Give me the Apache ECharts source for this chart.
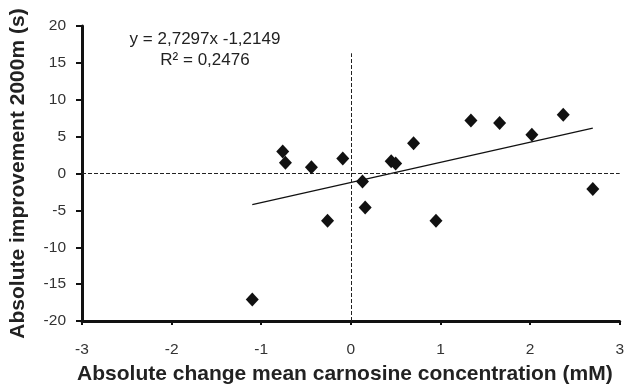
<!DOCTYPE html>
<html>
<head>
<meta charset="utf-8">
<script src="https://cdn.jsdelivr.net/npm/echarts@6/dist/echarts.min.js"></script>
<style>
  html, body { margin: 0; padding: 0; background: #fff; }
  #chart { width: 627px; height: 390px; }
</style>
</head>
<body>
<div id="chart"></div>
<script>
// carnosine change (mM) vs improvement 2000m (s)
const carnosineChange = [-1.10, -0.76, -0.73, -0.44, -0.26, -0.09, 0.13, 0.16, 0.45, 0.50, 0.70, 0.95, 1.34, 1.66, 2.02, 2.37, 2.70];
const improvement = [-17.1, 3.0, 1.45, 0.85, -6.4, 2.05, -1.1, -4.6, 1.65, 1.35, 4.1, -6.4, 7.2, 6.85, 5.25, 7.95, -2.1];
const trendLine = [[-1.10, -4.22], [2.70, 6.16]];
const xTicks = [-3, -2, -1, 0, 1, 2, 3];
const yTicks = [-20, -15, -10, -5, 0, 5, 10, 15, 20];
const equationLines = ['y = 2,7297x -1,2149', 'R² = 0,2476'];

const font = '"Liberation Sans", Arial, sans-serif';
const chart = echarts.init(document.getElementById('chart'));

const points = carnosineChange.map((x, i) => [x, improvement[i]]);

chart.setOption({
  animation: false,
  grid: { left: 79, right: 7, top: 26, bottom: 66 },
  xAxis: {
    type: 'value',
    min: xTicks[0],
    max: xTicks[xTicks.length - 1],
    interval: 1,
    name: 'Absolute change mean carnosine concentration (mM)',
    nameLocation: 'middle',
    nameGap: 43,
    nameTextStyle: { fontFamily: font, fontSize: 21, fontWeight: 'bold', color: '#222', padding: [0, 12, 0, 0] },
    axisLine: { onZero: false, lineStyle: { color: '#111', width: 3 } },
    axisTick: { length: 4, lineStyle: { color: '#111', width: 2 } },
    axisLabel: { margin: 21, fontFamily: font, fontSize: 15.5, color: '#333' },
    splitLine: { show: false }
  },
  yAxis: {
    type: 'value',
    min: yTicks[0],
    max: yTicks[yTicks.length - 1],
    interval: 5,
    name: 'Absolute improvement 2000m (s)',
    nameLocation: 'middle',
    nameGap: 53,
    nameTextStyle: { fontFamily: font, fontSize: 21, fontWeight: 'bold', color: '#222' },
    axisLine: { show: true, onZero: false, lineStyle: { color: '#111', width: 3 } },
    axisTick: { show: true, length: 6, lineStyle: { color: '#111', width: 2 } },
    axisLabel: { margin: 16, fontFamily: font, fontSize: 15.5, color: '#333' },
    splitLine: { show: false }
  },
  graphic: equationLines.map((t, i) => ({
    type: 'text',
    x: 205,
    y: 39 + i * 21,
    style: { text: t, fill: '#222', font: '17px ' + font, align: 'center', verticalAlign: 'middle' }
  })),
  series: [
    {
      type: 'scatter',
      data: points,
      symbol: 'diamond',
      symbolSize: [13, 14],
      itemStyle: { color: '#111', opacity: 1 },
      z: 5,
      markLine: {
        silent: true,
        symbol: 'none',
        label: { show: false },
        lineStyle: { color: '#222', type: [4, 2], width: 1 },
        data: [
          [{ coord: [-3, 0] }, { coord: [3, 0] }],
          [{ coord: [0, -20] }, { coord: [0, 16.3] }]
        ]
      }
    },
    {
      type: 'line',
      data: trendLine,
      symbol: 'none',
      lineStyle: { color: '#111', width: 1.3 },
      z: 4
    }
  ]
});
</script>
</body>
</html>
